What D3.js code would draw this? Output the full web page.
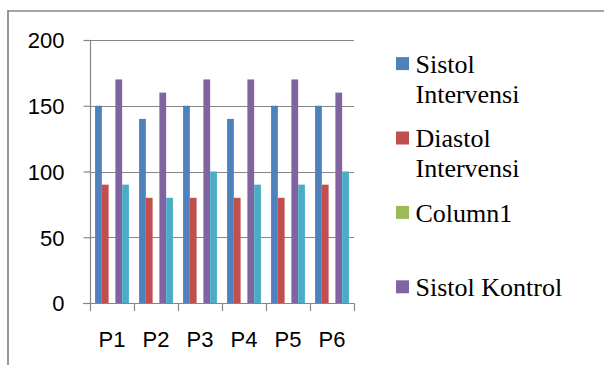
<!DOCTYPE html>
<html>
<head>
<meta charset="utf-8">
<script src="https://cdn.jsdelivr.net/npm/d3@7"></script>
<style>
  html, body { margin: 0; padding: 0; background: #fff; }
  svg { display: block; }
</style>
</head>
<body>
<svg id="chart" width="604" height="365"></svg>
<script>
// Blood pressure per participant (P1..P6)
const categories = ["P1", "P2", "P3", "P4", "P5", "P6"];
const seriesNames = ["Sistol Intervensi", "Diastol Intervensi", "Column1", "Sistol Kontrol", "Diastol Kontrol"];
const sistolIntervensi  = [150, 140, 150, 140, 150, 150];
const diastolIntervensi = [90, 80, 80, 80, 80, 90];
const column1           = [0, 0, 0, 0, 0, 0];
const sistolKontrol     = [170, 160, 170, 170, 170, 160];
const diastolKontrol    = [90, 80, 100, 90, 90, 100];
const seriesColors = ["#4F81BD", "#C0504D", "#9BBB59", "#8064A2", "#4BACC6"];
const legendNames = seriesNames.slice(0, 4);
const yTicks = [0, 50, 100, 150, 200];

const seriesValues = [sistolIntervensi, diastolIntervensi, column1, sistolKontrol, diastolKontrol];

const svg = d3.select("#chart");
const gridColor = "#868686";
const sansFont = '"Liberation Sans", Arial, sans-serif';
const serifFont = '"Liberation Serif", "Times New Roman", serif';

// chart frame (top and left edges visible)
svg.append("line").attr("x1", 7.5).attr("x2", 604).attr("y1", 11).attr("y2", 11)
  .attr("stroke", gridColor).attr("stroke-width", 1.6);
svg.append("line").attr("x1", 8).attr("x2", 8).attr("y1", 10.2).attr("y2", 365)
  .attr("stroke", gridColor).attr("stroke-width", 1.7);

const plot = { left: 90, right: 354, top: 40, bottom: 303 };

const y = d3.scaleLinear().domain([0, 200]).range([plot.bottom, plot.top]);
const x0 = d3.scaleBand().domain(categories).range([plot.left, plot.right]).padding(0);
const x1 = d3.scaleBand().domain(seriesNames).range([0, x0.bandwidth()])
  .paddingInner(0).paddingOuter(0.75);

// horizontal gridlines
svg.append("g").selectAll("line").data(yTicks.filter(d => d > 0)).join("line")
  .attr("x1", plot.left).attr("x2", plot.right)
  .attr("y1", d => Math.round(y(d)) + 0.5).attr("y2", d => Math.round(y(d)) + 0.5)
  .attr("stroke", gridColor).attr("stroke-width", 1.2);

// bars
const groups = svg.append("g").selectAll("g").data(categories).join("g")
  .attr("transform", d => `translate(${x0(d)},0)`);
groups.selectAll("rect")
  .data((c, i) => seriesNames.map((s, k) => ({ s, k, v: seriesValues[k][i] })))
  .join("rect")
  .attr("x", d => x1(d.s))
  .attr("width", x1.bandwidth())
  .attr("y", d => y(d.v))
  .attr("height", d => y(0) - y(d.v))
  .attr("fill", d => seriesColors[d.k]);

// y axis
const yAxis = d3.axisLeft(y).tickValues(yTicks).tickSize(7).tickPadding(19);
const gy = svg.append("g").attr("transform", `translate(${plot.left + 0.5},0)`).call(yAxis);
gy.select(".domain").attr("stroke", gridColor).attr("stroke-width", 1.2)
  .attr("d", `M0,${plot.top}V${plot.bottom}`);
gy.selectAll(".tick line").attr("stroke", gridColor).attr("stroke-width", 1.2);
gy.selectAll(".tick text")
  .style("font-family", sansFont)
  .style("font-size", "22px").attr("fill", "#000").attr("dy", "0.36em");

// x axis with tick marks on category boundaries
const gx = svg.append("g").attr("transform", `translate(0,${plot.bottom + 0.5})`);
gx.append("line").attr("x1", plot.left - 7).attr("x2", plot.right + 0.5)
  .attr("stroke", gridColor).attr("stroke-width", 1.2);
const bounds = categories.map(c => x0(c)).concat([plot.right]);
gx.selectAll("line.tk").data(bounds).join("line").attr("class", "tk")
  .attr("x1", d => d + 0.5).attr("x2", d => d + 0.5).attr("y1", 0).attr("y2", 7.5)
  .attr("stroke", gridColor).attr("stroke-width", 1.2);
gx.selectAll("text").data(categories).join("text")
  .attr("x", d => x0(d) + x0.bandwidth() / 2)
  .attr("y", 43.5)
  .attr("text-anchor", "middle")
  .style("font-family", sansFont)
  .style("font-size", "22px").attr("fill", "#000")
  .text(d => d);

// legend
const legend = svg.append("g");
const wrapWidth = 160;
legendNames.forEach((name, i) => {
  const base = 72.7 + i * 74.4;
  const g = legend.append("g");
  g.append("rect").attr("x", 396).attr("y", base - 15.6).attr("width", 13).attr("height", 13)
    .attr("fill", seriesColors[i]);
  const t = g.append("text").attr("x", 415.5).attr("y", base)
    .style("font-family", serifFont).style("font-size", "26px").attr("fill", "#000");
  // wrap words onto lines of limited width
  const words = name.split(" ");
  let line = [];
  let tspan = t.append("tspan").attr("x", 415.5).attr("y", base);
  let lineNo = 0;
  words.forEach(w => {
    line.push(w);
    tspan.text(line.join(" "));
    if (tspan.node().getComputedTextLength() > wrapWidth && line.length > 1) {
      line.pop();
      tspan.text(line.join(" "));
      line = [w];
      lineNo++;
      tspan = t.append("tspan").attr("x", 415.5).attr("y", base + lineNo * 30).text(w);
    }
  });
});
</script>
</body>
</html>
